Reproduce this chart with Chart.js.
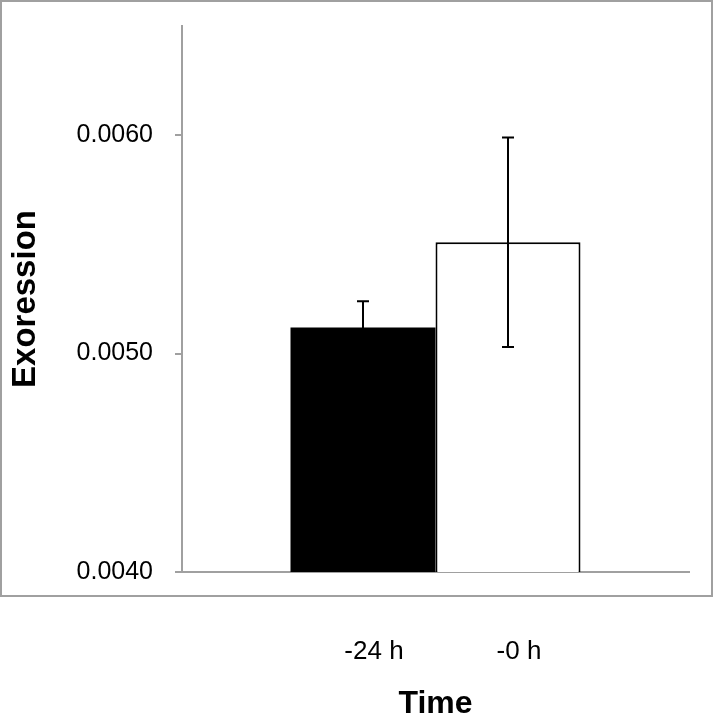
<!DOCTYPE html>
<html>
<head>
<meta charset="utf-8">
<script src="https://cdn.jsdelivr.net/npm/chart.js@4/dist/chart.umd.min.js"></script>
<style>
  html, body { margin: 0; padding: 0; background: #fff; }
  canvas { display: block; }
</style>
</head>
<body>
<canvas id="chartExpresion" width="714" height="720"></canvas>
<script>
const timeLabels = ['-24 h', '-0 h'];
const expression = [0.00512, 0.00551];
const errors = [0.00012, 0.00048];
const yTicks = [0.0040, 0.0050, 0.0060];
const barColors = ['#000000', '#ffffff'];

const FONT = '"Liberation Sans", Arial, Helvetica, sans-serif';

// marco gris alrededor de todo el gráfico
const marcoPlugin = {
    id: 'marco',
    beforeDraw(chart) {
        const ctx = chart.ctx;
        ctx.save();
        ctx.fillStyle = '#ffffff';
        ctx.fillRect(0, 0, chart.width, chart.height);
        ctx.strokeStyle = '#a0a0a0';
        ctx.lineWidth = 2;
        ctx.strokeRect(1, 1, chart.width - 3, 595);
        ctx.restore();
    }
};

// barras de error + etiquetas de tiempo debajo de cada barra
const errorPlugin = {
    id: 'errores',
    afterDatasetsDraw(chart) {
        const ctx = chart.ctx;
        const y = chart.scales.y;
        ctx.save();
        ctx.strokeStyle = '#000';
        ctx.lineWidth = 2;
        chart.data.datasets.forEach((ds, i) => {
            const bar = chart.getDatasetMeta(i).data[0];
            const top = y.getPixelForValue(expression[i] + errors[i]);
            const bottom = y.getPixelForValue(expression[i] - errors[i]);
            ctx.beginPath();
            ctx.moveTo(bar.x, top);
            ctx.lineTo(bar.x, bottom);
            ctx.moveTo(bar.x - 6, top);
            ctx.lineTo(bar.x + 6, top);
            ctx.moveTo(bar.x - 6, bottom);
            ctx.lineTo(bar.x + 6, bottom);
            ctx.stroke();
        });
        ctx.restore();
    },
    afterDraw(chart) {
        const ctx = chart.ctx;
        ctx.save();
        ctx.fillStyle = '#000';
        ctx.font = '26px ' + FONT;
        ctx.textAlign = 'center';
        ctx.textBaseline = 'middle';
        chart.data.datasets.forEach((ds, i) => {
            const bar = chart.getDatasetMeta(i).data[0];
            ctx.fillText(ds.label, bar.x + 11, chart.scales.x.top + 80);
        });
        ctx.restore();
    }
};

new Chart(document.getElementById('chartExpresion'), {
    type: 'bar',
    data: {
        labels: [''],
        datasets: timeLabels.map((t, i) => ({
            label: t,
            data: [expression[i]],
            backgroundColor: barColors[i],
            borderColor: '#000000',
            borderWidth: i === 0 ? 0 : 2,
            borderSkipped: 'start'
        }))
    },
    options: {
        responsive: false,
        animation: false,
        layout: { padding: { top: 26, right: 25, left: 0, bottom: 0 } },
        datasets: { bar: { categoryPercentage: 0.572, barPercentage: 1 } },
        plugins: { legend: { display: false }, tooltip: { enabled: false } },
        scales: {
            x: {
                grid: { display: false },
                border: { display: true, color: '#a0a0a0', width: 2 },
                ticks: { display: false },
                title: {
                    display: true, text: 'Time', color: '#000',
                    font: { family: FONT, size: 32, weight: 'bold', lineHeight: 1 },
                    padding: { top: 0, bottom: 0 }
                },
                afterFit: (scale) => { scale.height = 148; }
            },
            y: {
                min: 0.0040,
                max: 0.0065,
                afterBuildTicks: (scale) => { scale.ticks = yTicks.map(v => ({ value: v })); },
                grid: { drawOnChartArea: false, tickLength: 7, color: '#a0a0a0', lineWidth: 2 },
                border: { color: '#a0a0a0', width: 2 },
                ticks: {
                    color: '#000', padding: 22,
                    font: { family: FONT, size: 25 },
                    callback: (v) => Number(v).toFixed(4)
                },
                title: {
                    display: true, text: 'Exoression', color: '#000',
                    font: { family: FONT, size: 33, weight: 'bold', lineHeight: 1 },
                    padding: { top: 9, bottom: 0 }
                },
                afterFit: (scale) => {
                    scale.width = 182;
                    scale.paddingTop = 0;
                    scale.paddingBottom = 0;
                }
            }
        }
    },
    plugins: [marcoPlugin, errorPlugin]
});
</script>
</body>
</html>
